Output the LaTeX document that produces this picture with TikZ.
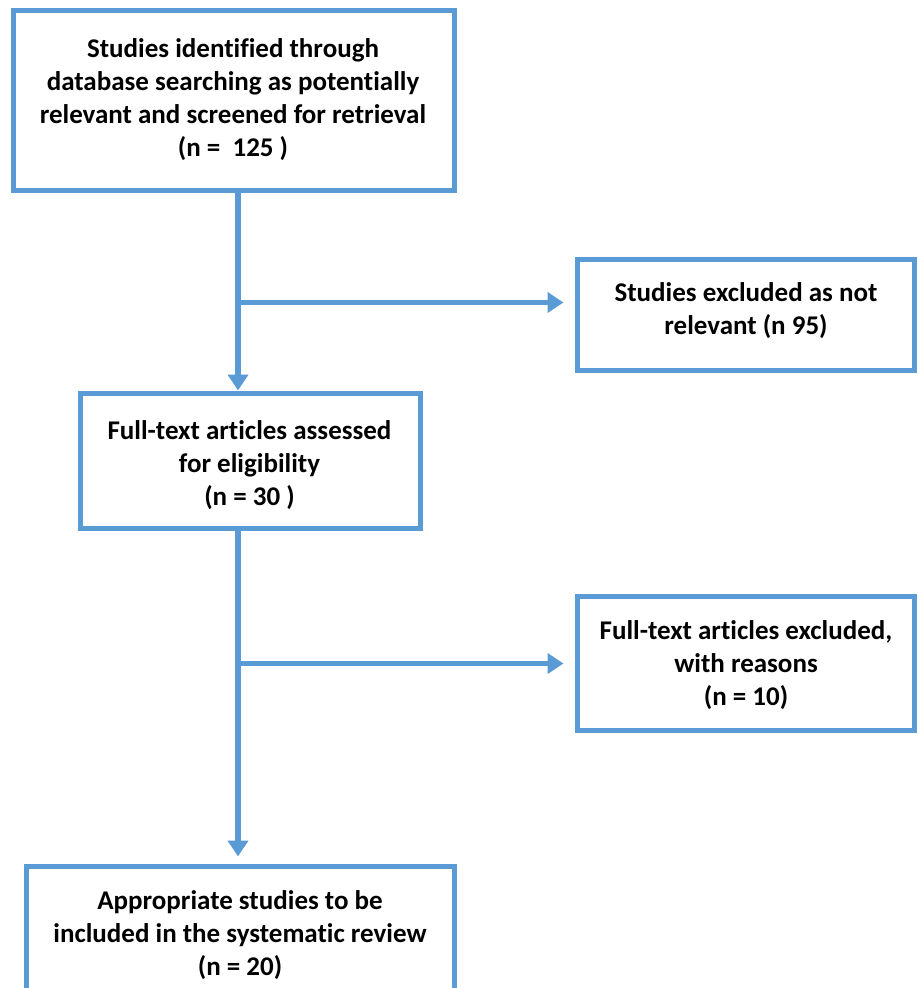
\documentclass[tikz,border=0pt]{standalone}
\usepackage{fontspec}
\setmainfont{Carlito}[Ligatures=NoCommon]
\usetikzlibrary{arrows.meta}
\definecolor{flowblue}{RGB}{91,155,213}
\begin{document}
\begin{tikzpicture}[x=1pt,y=-1pt,
  box/.style={draw=flowblue, line width=5pt, fill=white, inner sep=0pt},
  label/.style={inner sep=0pt, align=center, text=black,
    font=\fontsize{27}{33}\selectfont\bfseries},
  conn/.style={draw=flowblue, line width=5.5pt},
  arr/.style={conn, -{Triangle[width=20pt,length=16pt]}}
]
\useasboundingbox (0,0) rectangle (918,988);
\clip (0,0) rectangle (918,988);

% boxes
\node[box, minimum width=441pt, minimum height=180pt] (b1) at (233.5,100) {};
\node[box, minimum width=337pt, minimum height=111pt] (b2) at (745.5,314.5) {};
\node[box, minimum width=340pt, minimum height=135pt] (b3) at (250,460.5) {};
\node[box, minimum width=337pt, minimum height=134pt] (b4) at (745.5,663) {};
\node[box, minimum width=427.5pt, minimum height=136pt] (b5) at (240.25,934) {};

% texts
\node[label] (t1) at (233,99.5)
  {Studies identified through\\database searching as potentially\\relevant and screened for retrieval\\(n = \ 125 )};
\node[label] (t2) at (746,310.5)
  {Studies excluded as not\\relevant (n 95)};
\node[label] (t3) at (249.5,465)
  {Full-text articles assessed\\for eligibility\\(n = 30 )};
\node[label] (t4) at (746,665.5)
  {Full-text articles excluded,\\with reasons\\(n = 10)};
\node[label] (t5) at (240,935.5)
  {Appropriate studies to be\\included in the systematic review\\(n = 20)};

% connectors
\coordinate (j1) at (238,302.5);
\coordinate (j2) at (238,663.5);

\draw[arr] (b1.south -| j1) -- (b3.north -| j1);
\draw[arr, shorten >=11pt] (j1) -- (b2.west |- j1);
\draw[arr, shorten >=7pt] (b3.south -| j2) -- (b5.north -| j2);
\draw[arr, shorten >=11pt] (j2) -- (b4.west |- j2);
\end{tikzpicture}
\end{document}
